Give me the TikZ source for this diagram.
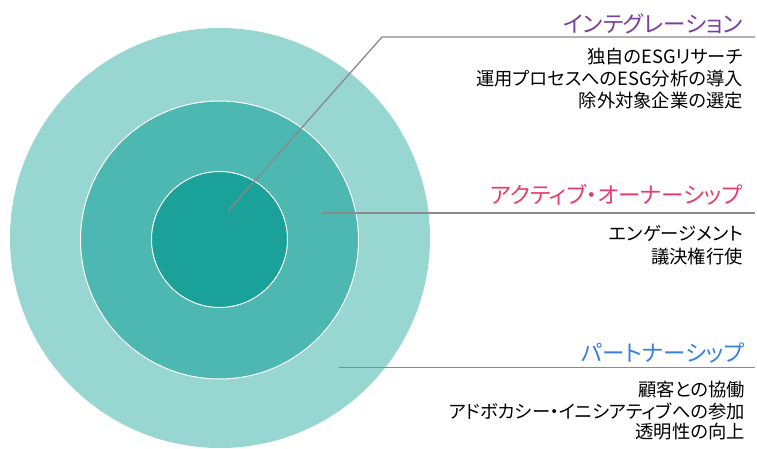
\documentclass[tikz,border=0pt]{standalone}
\usepackage{fontspec}
\setmainfont{Noto Sans CJK JP}[RawFeature=+palt]
\definecolor{ringOuter}{HTML}{98D6D2}
\definecolor{ringMid}{HTML}{4DB7B2}
\definecolor{ringInner}{HTML}{1AA19A}
\definecolor{leadGray}{HTML}{8A8A8A}
\definecolor{tPurple}{HTML}{7B3F9E}
\definecolor{tPink}{HTML}{E63C6E}
\definecolor{tBlue}{HTML}{3A80DC}
\tikzset{
  ring/.style={circle, inner sep=0pt, outer sep=0pt},
  leader/.style={draw=leadGray, line width=1.3pt},
  titletext/.style={anchor=east, inner sep=0pt, font=\fontsize{22.5}{24}\selectfont},
  bodytext/.style={anchor=east, inner sep=0pt, text=black, font=\fontsize{18.3}{20}\selectfont},
}
\begin{document}
\begin{tikzpicture}[x=1pt,y=-1pt]
\useasboundingbox (0,0) rectangle (757,449);
\node[ring, fill=ringOuter, minimum size=420pt] (outer) at (220,238) {};
\node[ring, fill=ringMid, draw=white, line width=1pt, minimum size=278pt] (mid) at (219.5,240) {};
\node[ring, fill=ringInner, draw=white, line width=1pt, minimum size=136pt] (inner) at (219.5,239.5) {};
% leader lines
\coordinate (a1) at (228,211);
\coordinate (a2) at (382,37);
\coordinate (a3) at (755,37);
\draw[leader] (a1) -- (a2) -- (a3);
\coordinate (b1) at (322,213);
\coordinate (b2) at (755,213);
\draw[leader] (b1) -- (b2);
\coordinate (c1) at (339,367.5);
\coordinate (c2) at (755,367.5);
\draw[leader] (c1) -- (c2);
% texts
\node[titletext, text=tPurple] (t1) at (743,24) {インテグレーション};
\node[bodytext] (t1a) at (743,57) {独自のESGリサーチ};
\node[bodytext] (t1b) at (743,79) {運用プロセスへのESG分析の導入};
\node[bodytext] (t1c) at (743,101) {除外対象企業の選定};
\node[titletext, text=tPink] (t2) at (743,195) {アクティブ・オーナーシップ};
\node[bodytext] (t2a) at (743,233) {エンゲージメント};
\node[bodytext] (t2b) at (743,257) {議決権行使};
\node[titletext, text=tBlue] (t3) at (745,353) {パートナーシップ};
\node[bodytext] (t3a) at (745,390) {顧客との協働};
\node[bodytext] (t3b) at (745,411) {アドボカシー・イニシアティブへの参加};
\node[bodytext] (t3c) at (745,432) {透明性の向上};
\end{tikzpicture}
\end{document}
